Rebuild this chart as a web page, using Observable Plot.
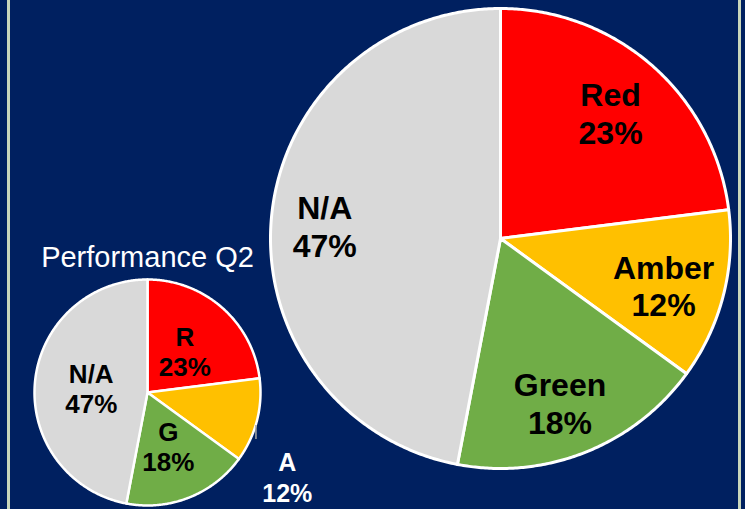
<!DOCTYPE html>
<html>
<head>
<meta charset="utf-8">
<script src="https://cdn.jsdelivr.net/npm/d3@7"></script>
<script src="https://cdn.jsdelivr.net/npm/@observablehq/plot@0.6"></script>
<style>
  html, body { margin: 0; padding: 0; background: #002060; overflow: hidden; }
  #wrap { position: relative; width: 745px; height: 509px; }
  .edge { position: absolute; top: 0; width: 3px; height: 509px; background: #c9d6bb; }
</style>
</head>
<body>
<div id="wrap">
  <div id="chart"></div>
  <div class="edge" style="left:7px"></div>
  <div class="edge" style="left:738px"></div>
</div>
<script>
// ---- data ----
const categories = ["Red", "Amber", "Green", "N/A"];
const shortLabels = ["R", "A", "G", "N/A"];
const shares = [23, 12, 18, 47];
const colors = ["#ff0000", "#ffc000", "#70ad47", "#d9d9d9"];
const smallTitle = "Performance Q2";

// ---- layout ----
const W = 745, H = 509;
const bigPie = {id: "big", cx: 500, cy: 238, r: 230, stroke: 3, labelFrac: 0.75};
const smallPie = {id: "small", cx: 147, cy: 392, r: 113, stroke: 2.5, labelFrac: 0.5};

const arcs = d3.pie().sort(null).value(d => d)(shares);

function slicePoints(pie) {
  const pts = [];
  arcs.forEach((a, i) => {
    const key = pie.id + i;
    pts.push({key, cat: categories[i], x: pie.cx, y: pie.cy});
    const n = Math.max(2, Math.ceil((a.endAngle - a.startAngle) / (Math.PI / 360)));
    for (let k = 0; k <= n; k++) {
      const t = a.startAngle + (a.endAngle - a.startAngle) * k / n;
      pts.push({key, cat: categories[i], x: pie.cx + pie.r * Math.sin(t), y: pie.cy - pie.r * Math.cos(t)});
    }
  });
  return pts;
}

function labelRows(pie, names, frac) {
  return arcs.map((a, i) => {
    const m = (a.startAngle + a.endAngle) / 2;
    return {
      i,
      text: names[i] + "\n" + shares[i] + "%",
      x: pie.cx + pie.r * frac * Math.sin(m),
      y: pie.cy - pie.r * frac * Math.cos(m)
    };
  });
}

const bigLabels = labelRows(bigPie, categories, bigPie.labelFrac);
const smallInside = labelRows(smallPie, shortLabels, smallPie.labelFrac).filter(d => d.i !== 1);
const smallOutside = labelRows(smallPie, shortLabels, 1.25).filter(d => d.i === 1);
const leader = labelRows(smallPie, shortLabels, 1.0).filter(d => d.i === 1);

const font = "'Liberation Sans', Arial, Helvetica, sans-serif";

const chart = Plot.plot({
  width: W,
  height: H,
  margin: 0,
  x: {domain: [0, W], range: [0, W], axis: null},
  y: {domain: [0, H], range: [0, H], axis: null},
  color: {domain: categories, range: colors},
  style: {background: "#002060", fontFamily: font, overflow: "visible"},
  marks: [
    Plot.line(slicePoints(bigPie), {
      x: "x", y: "y", z: "key", fill: "cat", stroke: "white",
      strokeWidth: bigPie.stroke, strokeLinejoin: "round", curve: "linear-closed"
    }),
    Plot.line(slicePoints(smallPie), {
      x: "x", y: "y", z: "key", fill: "cat", stroke: "white",
      strokeWidth: smallPie.stroke, strokeLinejoin: "round", curve: "linear-closed"
    }),
    Plot.ruleX(leader, {
      x: d => d.x - 1, y1: d => d.y + 5, y2: d => d.y + 19,
      stroke: "#a6a6a6", strokeWidth: 1.5
    }),
    Plot.text(bigLabels, {
      x: "x", y: "y", text: "text", fill: "black", fontSize: 32,
      fontWeight: "bold", lineHeight: 1.18, textAnchor: "middle", dx: -4, dy: 4
    }),
    Plot.text(smallInside, {
      x: "x", y: "y", text: "text", fill: "black", fontSize: 26,
      fontWeight: "bold", lineHeight: 1.15, textAnchor: "middle", dy: 1
    }),
    Plot.text(smallOutside, {
      x: "x", y: "y", text: "text", fill: "white", fontSize: 25,
      fontWeight: "bold", lineHeight: 1.25, textAnchor: "middle", dx: 3, dy: 49
    }),
    Plot.text([smallTitle], {
      x: smallPie.cx, y: smallPie.cy, text: d => d, fill: "white",
      fontSize: 29, dy: -135, textAnchor: "middle"
    })
  ]
});

document.getElementById("chart").appendChild(chart);
</script>
</body>
</html>
